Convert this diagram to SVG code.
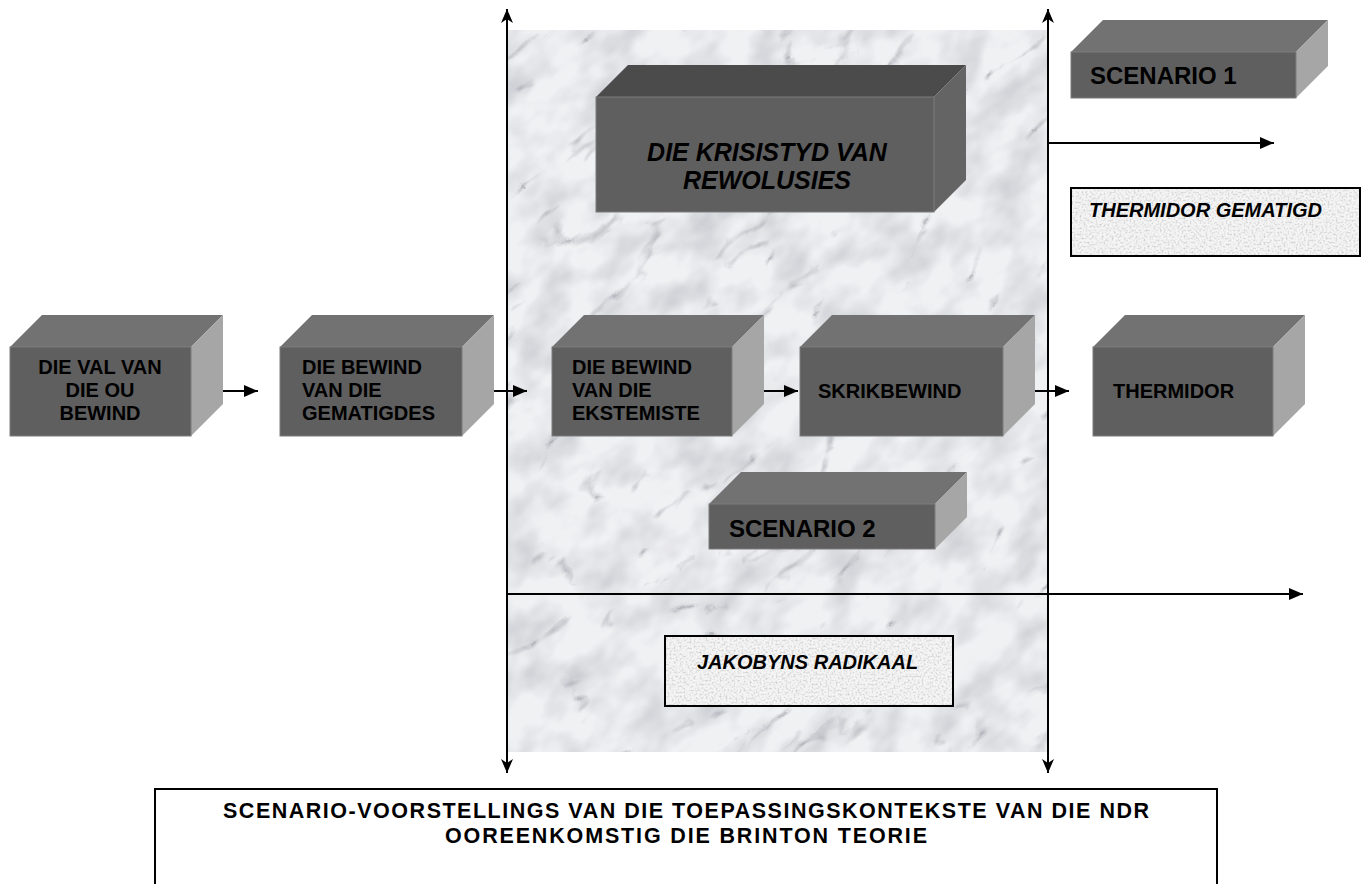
<svg xmlns="http://www.w3.org/2000/svg" width="1361" height="884" viewBox="0 0 1361 884">
<style>
  .t { font-family: "Liberation Sans", Arial, sans-serif; font-weight: bold; fill: #000; }
  .f20 { font-size: 20px; }
  .f215 { font-size: 21.5px; }
  .f24 { font-size: 24px; }
  .f25 { font-size: 25px; }
  .it { font-style: italic; }
  .front { fill: #5f5f5f; stroke: #7c7c7c; stroke-width: 1; }
  .top { fill: #727272; }
  .side { fill: #a6a6a6; }
  .topd { fill: #4b4b4b; }
  .sided { fill: #646464; }
  .conn { stroke: #000; stroke-width: 2; fill: none; }
  .lbl { fill: none; stroke: #000; stroke-width: 2; }
</style>
<defs>
  <marker id="ah" markerUnits="userSpaceOnUse" markerWidth="16" markerHeight="12" refX="14" refY="6" orient="auto">
    <path d="M0,0 L14,6 L0,12 Z" fill="#000"/>
  </marker>
  <marker id="av" markerUnits="userSpaceOnUse" markerWidth="16" markerHeight="12" refX="14" refY="6" orient="auto-start-reverse">
    <path d="M0,0 L14,6 L0,12 L4,6 Z" fill="#000"/>
  </marker>
  <filter id="marble" color-interpolation-filters="sRGB" x="-5%" y="-5%" width="110%" height="110%">
    <feTurbulence type="turbulence" baseFrequency="0.007 0.014" numOctaves="4" seed="11" result="t"/>
    <feColorMatrix in="t" type="matrix" values="0 0 0 0 0.55  0 0 0 0 0.56  0 0 0 0 0.6  -4 0 0 0 0.5" result="veins"/>
    <feTurbulence type="fractalNoise" baseFrequency="0.02 0.03" numOctaves="3" seed="2" result="f"/>
    <feColorMatrix in="f" type="matrix" values="0 0 0 0 0.72  0 0 0 0 0.73  0 0 0 0 0.76  1.3 0 0 0 -0.5" result="mott"/>
    <feMerge><feMergeNode in="mott"/><feMergeNode in="veins"/></feMerge>
  </filter>
  <filter id="speckle" color-interpolation-filters="sRGB" x="0" y="0" width="1" height="1">
    <feFlood flood-color="#f5f5f5" result="bg"/>
    <feTurbulence type="fractalNoise" baseFrequency="0.5" numOctaves="2" seed="5" result="n"/>
    <feColorMatrix in="n" type="matrix" values="0 0 0 0 0.72  0 0 0 0 0.72  0 0 0 0 0.72  1.6 0 0 0 -0.7" result="sp"/>
    <feMerge><feMergeNode in="bg"/><feMergeNode in="sp"/></feMerge>
  </filter>
  <clipPath id="marbleClip"><rect x="508" y="30" width="539" height="722"/></clipPath>
</defs>

<rect width="1361" height="884" fill="#fff"/>

<g id="marble-panel" clip-path="url(#marbleClip)">
  <rect x="508" y="30" width="539" height="722" fill="#f0f1f3"/>
  <g transform="rotate(-40 777 391)">
    <rect x="150" y="-250" width="1250" height="1300" fill="#fff" filter="url(#marble)"/>
  </g>
</g>

<g id="connectors">
  <line class="conn" x1="507" y1="391" x2="507" y2="9" marker-end="url(#av)"/>
  <line class="conn" x1="507" y1="391" x2="507" y2="773" marker-end="url(#av)"/>
  <line class="conn" x1="1048" y1="391" x2="1048" y2="9" marker-end="url(#av)"/>
  <line class="conn" x1="1048" y1="391" x2="1048" y2="773" marker-end="url(#av)"/>
  <line class="conn" x1="1048" y1="143" x2="1274" y2="143" marker-end="url(#ah)"/>
  <line class="conn" x1="507" y1="594" x2="1303" y2="594" marker-end="url(#ah)"/>
  <line class="conn" x1="191" y1="391" x2="258" y2="391" marker-end="url(#ah)"/>
  <line class="conn" x1="462" y1="391" x2="527" y2="391" marker-end="url(#ah)"/>
  <line class="conn" x1="732" y1="391" x2="798" y2="391" marker-end="url(#ah)"/>
  <line class="conn" x1="1003" y1="391" x2="1069" y2="391" marker-end="url(#ah)"/>
</g>

<g id="node-val">
  <polygon class="top" points="10,347 42,315 223,315 191,347"/>
  <polygon class="side" points="191,347 223,315 223,404 191,436"/>
  <rect class="front" x="10" y="347" width="181" height="89"/>
  <text class="t f20" text-anchor="middle" x="100" y="374">DIE VAL VAN</text>
  <text class="t f20" text-anchor="middle" x="100" y="397">DIE OU</text>
  <text class="t f20" text-anchor="middle" x="100" y="420">BEWIND</text>
</g>

<g id="node-gematigdes">
  <polygon class="top" points="280,347 312,315 494,315 462,347"/>
  <polygon class="side" points="462,347 494,315 494,404 462,436"/>
  <rect class="front" x="280" y="347" width="182" height="89"/>
  <text class="t f20" x="302" y="374">DIE BEWIND</text>
  <text class="t f20" x="302" y="397">VAN DIE</text>
  <text class="t f20" x="302" y="420">GEMATIGDES</text>
</g>

<g id="node-ekstemiste">
  <polygon class="top" points="552,347 584,315 764,315 732,347"/>
  <polygon class="side" points="732,347 764,315 764,404 732,436"/>
  <rect class="front" x="552" y="347" width="180" height="89"/>
  <text class="t f20" x="572" y="374">DIE BEWIND</text>
  <text class="t f20" x="572" y="397">VAN DIE</text>
  <text class="t f20" x="572" y="420">EKSTEMISTE</text>
</g>

<g id="node-skrikbewind">
  <polygon class="top" points="800,347 832,315 1035,315 1003,347"/>
  <polygon class="side" points="1003,347 1035,315 1035,404 1003,436"/>
  <rect class="front" x="800" y="347" width="203" height="89"/>
  <text class="t f20" x="818" y="398">SKRIKBEWIND</text>
</g>

<g id="node-thermidor">
  <polygon class="top" points="1093,347 1125,315 1305,315 1273,347"/>
  <polygon class="side" points="1273,347 1305,315 1305,404 1273,436"/>
  <rect class="front" x="1093" y="347" width="180" height="89"/>
  <text class="t f20" x="1113" y="398">THERMIDOR</text>
</g>

<g id="node-krisistyd">
  <polygon class="topd" points="596,97 628,65 966,65 934,97"/>
  <polygon class="sided" points="934,97 966,65 966,180 934,212"/>
  <rect class="front" x="596" y="97" width="338" height="115"/>
  <text class="t f25 it" text-anchor="middle" x="767" y="161">DIE KRISISTYD VAN</text>
  <text class="t f25 it" text-anchor="middle" x="767" y="189">REWOLUSIES</text>
</g>

<g id="node-scenario1">
  <polygon class="top" points="1071,52 1103,20 1328,20 1296,52"/>
  <polygon class="side" points="1296,52 1328,20 1328,66 1296,98"/>
  <rect class="front" x="1071" y="52" width="225" height="46"/>
  <text class="t f24" x="1090" y="84">SCENARIO 1</text>
</g>

<g id="node-scenario2">
  <polygon class="top" points="709,504 741,472 967,472 935,504"/>
  <polygon class="side" points="935,504 967,472 967,517 935,549"/>
  <rect class="front" x="709" y="504" width="226" height="45"/>
  <text class="t f24" x="729" y="537">SCENARIO 2</text>
</g>

<g id="node-thermidor-gematigd">
  <rect x="1071" y="188" width="289" height="68" fill="#f5f5f5" filter="url(#speckle)"/>
  <rect class="lbl" x="1071" y="188" width="289" height="68"/>
  <text class="t f20 it" x="1089" y="217">THERMIDOR GEMATIGD</text>
</g>

<g id="node-jakobyns">
  <rect x="665" y="636" width="288" height="70" fill="#f5f5f5" filter="url(#speckle)"/>
  <rect class="lbl" x="665" y="636" width="288" height="70"/>
  <text class="t f20 it" x="697" y="669">JAKOBYNS RADIKAAL</text>
</g>

<g id="node-title">
  <rect class="lbl" x="155" y="789" width="1062" height="120" fill="#fff"/>
  <text class="t f215" text-anchor="middle" x="686" y="818" textLength="926" lengthAdjust="spacing">SCENARIO-VOORSTELLINGS VAN DIE TOEPASSINGSKONTEKSTE VAN DIE NDR</text>
  <text class="t f215" text-anchor="middle" x="686" y="843" textLength="482" lengthAdjust="spacing">OOREENKOMSTIG DIE BRINTON TEORIE</text>
</g>
</svg>
